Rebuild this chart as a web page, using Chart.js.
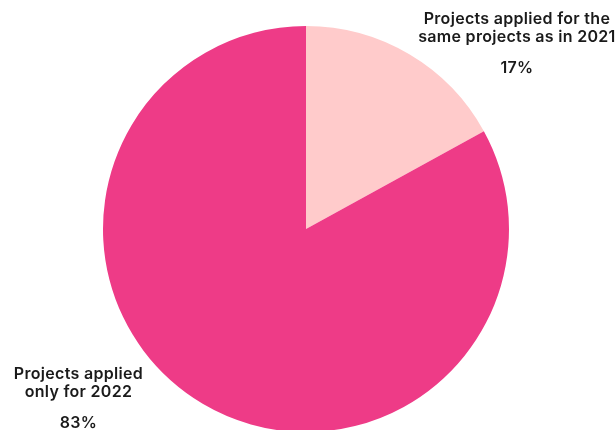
<!DOCTYPE html>
<html>
<head>
<meta charset="utf-8">
<script src="https://cdn.jsdelivr.net/npm/chart.js@4/dist/chart.umd.min.js"></script>
<style>
  html, body { margin: 0; padding: 0; background: #ffffff; overflow: hidden; }
  #wrap { position: relative; width: 616px; height: 440px; }
</style>
</head>
<body>
<div id="wrap"><canvas id="pie"></canvas></div>
<script>
// Share of projects by application year
const categories = [
  ["Projects applied for the", "same projects as in 2021"],
  ["Projects applied", "only for 2022"]
];
const shares = [17, 83];
const sliceColors = ["#FFCBCB", "#EE3B87"];

// Label anchor for each slice, in multiples of the pie radius from its centre
const labelAnchors = [
  { dx: 1.039, dy: -1.01 },
  { dx: -1.121, dy: 0.739 }
];

const sliceLabels = {
  id: "sliceLabels",
  afterDatasetsDraw(chart) {
    const ctx = chart.ctx;
    const arcs = chart.getDatasetMeta(0).data;
    ctx.save();
    ctx.fillStyle = "#1a1a1a";
    ctx.textAlign = "center";
    ctx.textBaseline = "alphabetic";
    ctx.font = "600 16px Inter";
    ctx.letterSpacing = "0.3px";
    arcs.forEach((arc, i) => {
      const R = arc.outerRadius;
      const x = arc.x + labelAnchors[i].dx * R;
      const y = arc.y + labelAnchors[i].dy * R;
      const lines = categories[i];
      lines.forEach((line, j) => {
        ctx.fillText(line, x, y + j * 18);
      });
      ctx.fillText(shares[i] + "%", x, y + (lines.length - 1) * 18 + 31);
    });
    ctx.restore();
  }
};

new Chart(document.getElementById("pie"), {
  type: "pie",
  data: {
    labels: categories.map(l => l.join(" ")),
    datasets: [{
      data: shares,
      backgroundColor: sliceColors,
      borderWidth: 0
    }]
  },
  options: {
    responsive: true,
    maintainAspectRatio: false,
    animation: false,
    layout: { padding: { top: 26, bottom: 8, left: 0, right: 4 } },
    plugins: {
      legend: { display: false },
      tooltip: { enabled: false }
    }
  },
  plugins: [sliceLabels]
});
</script>
</body>
</html>
